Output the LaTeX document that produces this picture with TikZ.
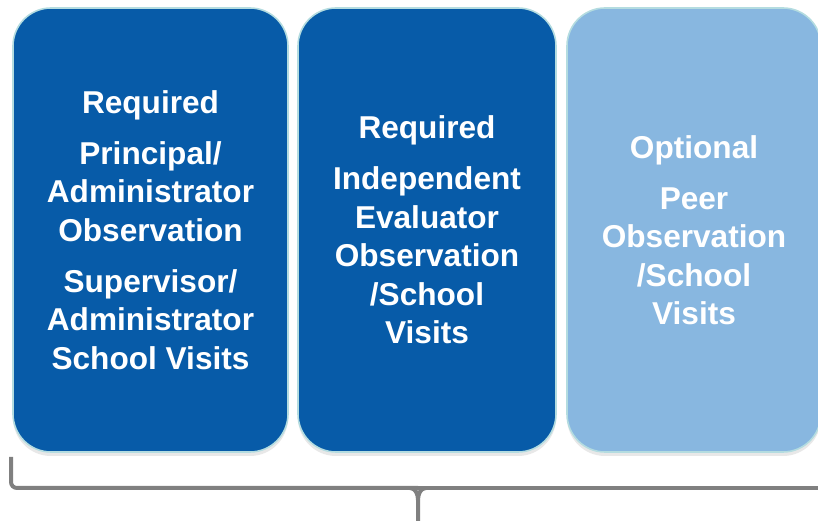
\documentclass[tikz,border=0pt]{standalone}
\usepackage{fontspec}
\setmainfont{Liberation Sans}
\usetikzlibrary{shadows}

\definecolor{darkblue}{HTML}{075BA8}
\definecolor{lightblue}{HTML}{88B7E0}
\definecolor{rim}{HTML}{B4DCE0}
\definecolor{bracegray}{HTML}{808080}

\tikzset{
	card/.style={shape=rectangle, rounded corners=19pt, draw=rim, line width=0.8pt,
		minimum height=222pt, text=white, align=center,
		font=\fontsize{15.8}{19.25}\selectfont\bfseries,
		drop shadow={shadow xshift=0pt, shadow yshift=-2pt, opacity=0.18}},
	brace/.style={draw=bracegray, line width=2pt, rounded corners=3pt}
}

\begin{document}
\begin{tikzpicture}[x=0.5pt,y=-0.5pt]
	
	\useasboundingbox (0,0) rectangle (818,522);
	
	\node[card, fill=darkblue, minimum width=137.5pt] (req1) at (150.5, 230)
		{Required\\[6.25pt]Principal/\\Administrator\\Observation\\[6.25pt]Supervisor/\\Administrator\\School Visits};
	\node[card, fill=darkblue, minimum width=129pt] (req2) at (427, 230)
		{Required\\[6.25pt]Independent\\Evaluator\\Observation\\/School\\Visits};
	\node[card, fill=lightblue, minimum width=127pt] (opt) at (694, 230)
		{Optional\\[6.25pt]Peer\\Observation\\/School\\Visits};
	
	\coordinate (bl) at (11, 457);
	\coordinate (bc) at (418, 488);
	\coordinate (bt) at (418, 521);
	\coordinate (br) at (820, 488);
	
	\draw[brace] (bl) |- (bc);
	\draw[brace] (bc) -- (br);
	\draw[draw=bracegray, line width=2pt] (410, 488) to[out=0, in=90] (418, 500) -- (bt);
	\draw[draw=bracegray, line width=2pt] (426, 488) to[out=180, in=90] (418, 500);
	
\end{tikzpicture}
\end{document}
